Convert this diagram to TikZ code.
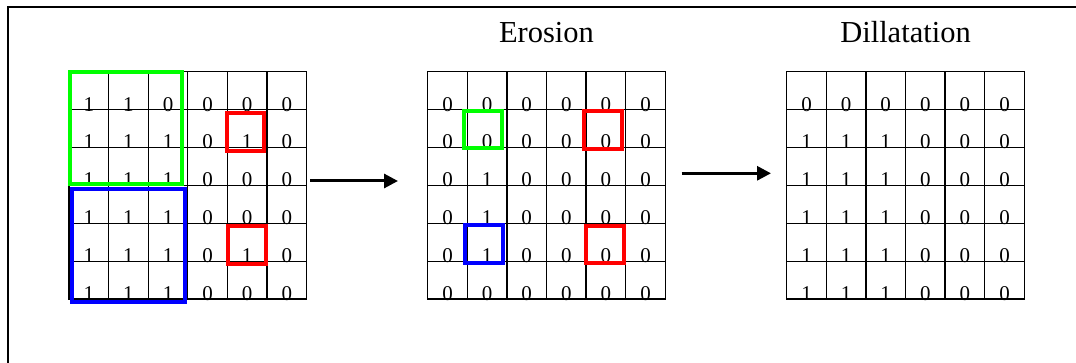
\documentclass[tikz,border=0pt]{standalone}
\usepackage{fontspec}
\setmainfont{Liberation Serif}
\usetikzlibrary{arrows.meta}
\definecolor{hgreen}{RGB}{0,255,0}
\definecolor{hblue}{RGB}{0,0,255}
\definecolor{hred}{RGB}{255,0,0}
\tikzset{
  cell/.style={draw, line width=1.3pt, minimum width=39.6pt, minimum height=37.9pt, inner sep=0pt, outer sep=0pt},
  digit/.style={anchor=base, yshift=-1.5pt, inner sep=0pt, font=\fontsize{21}{21}\selectfont},
  title/.style={anchor=base, inner sep=0pt, font=\fontsize{30.5}{30.5}\selectfont},
  hbox/.style={line width=4pt},
  flow/.style={line width=3pt, -{Triangle[length=14pt,width=14pt]}},
  frameline/.style={line width=2pt}
}
\newcommand\gridrow[4]{%
  \foreach \v [count=\c] in {#4} {
    \node[cell] (#1-#3-\c) at ({#2+(\c-0.5)*39.6},{71.7+(#3-0.5)*37.9}) {};
    \node[digit] (#1-#3-\c-t) at (#1-#3-\c.south) {\v};
  }}
\begin{document}
\begin{tikzpicture}[x=1pt,y=-1pt]
\useasboundingbox (0,0) rectangle (1076,363);
% frame (top and left edges only)
\draw[frameline] (7.7,363) -- (7.7,6.7) -- (1076,6.7);
% titles
\node[title] (tero) at (546.5,42.7) {Erosion};
\node[title] (tdil) at (905.5,42.7) {Dillatation};
% grid 1
\gridrow{a}{69}{1}{1,1,0,0,0,0}
\gridrow{a}{69}{2}{1,1,1,0,1,0}
\gridrow{a}{69}{3}{1,1,1,0,0,0}
\gridrow{a}{69}{4}{1,1,1,0,0,0}
\gridrow{a}{69}{5}{1,1,1,0,1,0}
\gridrow{a}{69}{6}{1,1,1,0,0,0}
% grid 2
\gridrow{b}{427.7}{1}{0,0,0,0,0,0}
\gridrow{b}{427.7}{2}{0,0,0,0,0,0}
\gridrow{b}{427.7}{3}{0,1,0,0,0,0}
\gridrow{b}{427.7}{4}{0,1,0,0,0,0}
\gridrow{b}{427.7}{5}{0,1,0,0,0,0}
\gridrow{b}{427.7}{6}{0,0,0,0,0,0}
% grid 3
\gridrow{c}{786.7}{1}{0,0,0,0,0,0}
\gridrow{c}{786.7}{2}{1,1,1,0,0,0}
\gridrow{c}{786.7}{3}{1,1,1,0,0,0}
\gridrow{c}{786.7}{4}{1,1,1,0,0,0}
\gridrow{c}{786.7}{5}{1,1,1,0,0,0}
\gridrow{c}{786.7}{6}{1,1,1,0,0,0}
% highlight boxes, grid 1
\draw[hbox, hgreen] (69.7,72.3) rectangle (182.3,183.7);
\draw[hbox, hblue] (71.7,189) rectangle (185,302);
\draw[hbox, hred] (226.7,113.3) rectangle (263.7,151);
\draw[hbox, hred] (227.7,226) rectangle (265.7,263.7);
% highlight boxes, grid 2
\draw[hbox, hgreen] (464.3,110.7) rectangle (502.3,148.3);
\draw[hbox, hred] (584.3,111) rectangle (622.3,149);
\draw[hbox, hblue] (465.3,225) rectangle (502.7,262.7);
\draw[hbox, hred] (586.3,226) rectangle (623.7,263);
% arrows
\coordinate (a1s) at (310,181);
\coordinate (a1e) at (398,181);
\coordinate (a2s) at (681.7,173.3);
\coordinate (a2e) at (771,173.3);
\draw[flow] (a1s) -- (a1e);
\draw[flow] (a2s) -- (a2e);
\end{tikzpicture}
\end{document}
